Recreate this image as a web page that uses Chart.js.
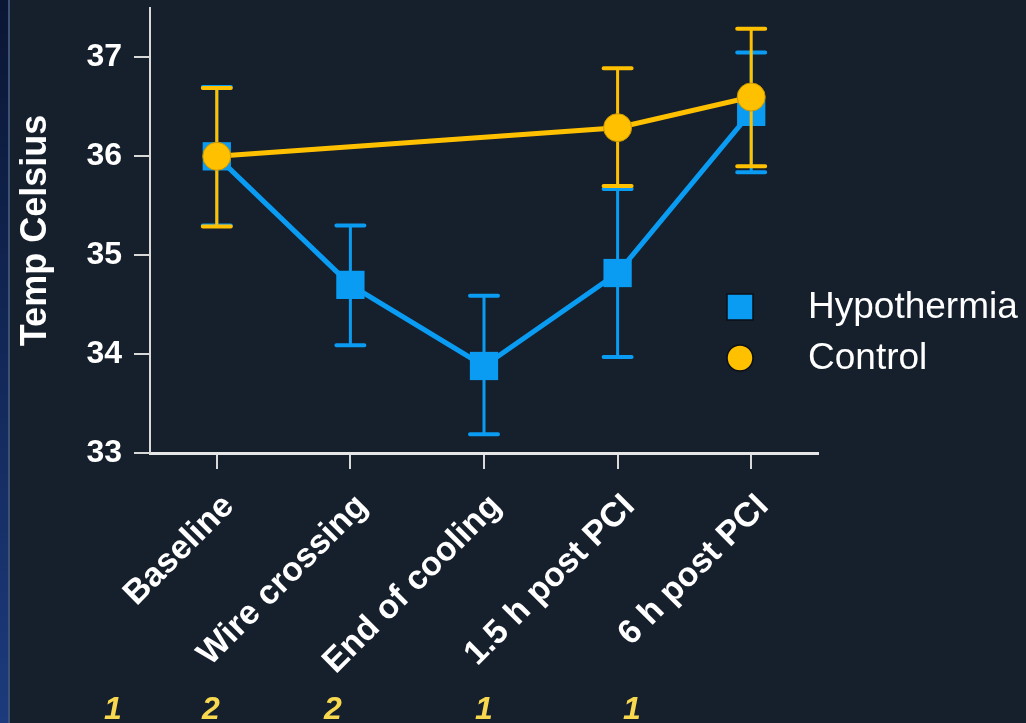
<!DOCTYPE html>
<html>
<head>
<meta charset="utf-8">
<script src="https://cdn.jsdelivr.net/npm/chart.js@4.4.1/dist/chart.umd.min.js"></script>
<style>
  html, body { margin: 0; padding: 0; background: #161f2c; overflow: hidden; }
  #strip { position: absolute; left: 0; top: 0; width: 8px; height: 723px;
           background: linear-gradient(#0a1634, #1c3a7c); border-right: 2px solid #3a5374; }
  #wrap { position: absolute; left: 0; top: 0; width: 1026px; height: 723px; }
</style>
</head>
<body>
<div id="strip"></div>
<div id="wrap"><canvas id="tempChart" width="1026" height="723"></canvas></div>
<script>
// Timepoints
const timepoints = ['Baseline', 'Wire crossing', 'End of cooling', '1.5 h post PCI', '6 h post PCI'];

// Hypothermia group: mean and error bar ends
const hypMean = [36.0, 34.7, 33.88, 34.82, 36.45];
const hypLow  = [35.3, 34.09, 33.19, 33.97, 35.84];
const hypHigh = [36.7, 35.3, 34.59, 35.67, 37.05];

// Control group (not measured at wire crossing / end of cooling)
const ctrlMean = [36.0, null, null, 36.29, 36.6];
const ctrlLow  = [35.29, null, null, 35.7, 35.9];
const ctrlHigh = [36.69, null, null, 36.89, 37.29];

const yTicks = [33, 34, 35, 36, 37];

// footnote markers along the bottom
const footnotes = ['1', '2', '2', '1', '1'];
const footnoteX = [113, 211, 333, 484, 632];

const BLUE = '#0a9bf2';
const GOLD = '#ffc000';
const FONT = "'Liberation Sans', Arial, sans-serif";

// draws the error bars of each dataset just before its line and markers
const errorBars = {
  id: 'errorBars',
  beforeDatasetDraw(chart, args) {
    const ds = chart.data.datasets[args.index];
    const yScale = chart.scales.y;
    const ctx = chart.ctx;
    ctx.save();
    ctx.strokeStyle = ds.borderColor;
    ctx.lineCap = 'round';
    args.meta.data.forEach((pt, i) => {
      if (ds.errLow[i] == null) return;
      const x = pt.x;
      const yLo = yScale.getPixelForValue(ds.errLow[i]);
      const yHi = yScale.getPixelForValue(ds.errHigh[i]);
      ctx.lineWidth = 3;
      ctx.beginPath();
      ctx.moveTo(x, yLo);
      ctx.lineTo(x, yHi);
      ctx.stroke();
      ctx.lineWidth = 4;
      ctx.beginPath();
      ctx.moveTo(x - 14, yLo); ctx.lineTo(x + 14, yLo);
      ctx.moveTo(x - 14, yHi); ctx.lineTo(x + 14, yHi);
      ctx.stroke();
    });
    ctx.restore();
  }
};

// legend sitting over the right side of the plot, plus the footnote numbers
const extras = {
  id: 'extras',
  afterDraw(chart) {
    const ctx = chart.ctx;
    ctx.save();
    const items = [chart.data.datasets[1], chart.data.datasets[0]];
    items.forEach((ds, i) => {
      const cy = 307 + i * 51;
      ctx.fillStyle = ds.backgroundColor;
      ctx.strokeStyle = '#0b0f16';
      ctx.lineWidth = 1.5;
      ctx.beginPath();
      if (ds.pointStyle === 'rect') {
        ctx.rect(727, cy - 13, 26, 26);
      } else {
        ctx.arc(740, cy, 13, 0, Math.PI * 2);
      }
      ctx.fill();
      ctx.stroke();
      ctx.fillStyle = '#ffffff';
      ctx.font = '37px ' + FONT;
      ctx.textBaseline = 'middle';
      ctx.textAlign = 'left';
      ctx.fillText(ds.label, 808, cy + 1);
    });
    ctx.fillStyle = '#f8d84f';
    ctx.font = 'italic bold 32px ' + FONT;
    ctx.textAlign = 'center';
    ctx.textBaseline = 'middle';
    footnotes.forEach((t, i) => ctx.fillText(t, footnoteX[i], 710));
    ctx.restore();
  }
};

const ctx = document.getElementById('tempChart').getContext('2d');
new Chart(ctx, {
  type: 'line',
  data: {
    labels: timepoints,
    datasets: [
      {
        label: 'Control',
        data: ctrlMean,
        errLow: ctrlLow,
        errHigh: ctrlHigh,
        borderColor: GOLD,
        backgroundColor: GOLD,
        borderWidth: 5,
        pointStyle: 'circle',
        pointRadius: 14,
        pointBorderColor: '#c89600',
        pointBorderWidth: 1,
        spanGaps: true,
        order: 1
      },
      {
        label: 'Hypothermia',
        data: hypMean,
        errLow: hypLow,
        errHigh: hypHigh,
        borderColor: BLUE,
        backgroundColor: BLUE,
        borderWidth: 5,
        pointStyle: 'rect',
        pointRadius: 20,
        pointBorderWidth: 0,
        order: 2
      }
    ]
  },
  options: {
    responsive: false,
    animation: false,
    layout: { autoPadding: false, padding: { left: 10, top: 8, right: 208, bottom: 0 } },
    plugins: {
      legend: { display: false },
      tooltip: { enabled: false }
    },
    scales: {
      x: {
        offset: true,
        grid: { display: true, drawOnChartArea: false, drawTicks: true, tickLength: 16, color: '#d9d9d9', lineWidth: 2 },
        border: { display: true, color: '#e6e6e6', width: 3 },
        ticks: {
          color: '#ffffff',
          font: { family: FONT, size: 34, weight: 'bold', lineHeight: 1 },
          minRotation: 45,
          maxRotation: 45,
          padding: 20,
          showLabelBackdrop: true,
          backdropColor: 'rgba(0,0,0,0)',
          backdropPadding: 0
        },
        afterFit(scale) {
          scale.height = 270;
          scale.paddingLeft = 0;
          scale.paddingRight = 0;
        }
      },
      y: {
        min: 33,
        max: 37.5,
        afterBuildTicks(scale) {
          scale.ticks = yTicks.map(v => ({ value: v }));
        },
        grid: { display: true, drawOnChartArea: false, drawTicks: true, tickLength: 16, color: '#d9d9d9', lineWidth: 2 },
        border: { display: true, color: '#d9d9d9', width: 2 },
        ticks: {
          color: '#ffffff',
          font: { family: FONT, size: 32, weight: 'bold' },
          padding: 12
        },
        title: {
          display: true,
          text: 'Temp Celsius',
          color: '#ffffff',
          font: { family: FONT, size: 36, weight: 'bold' },
          padding: { top: 4, bottom: 0 }
        },
        afterFit(scale) {
          scale.width = 140;
          scale.paddingTop = 0;
          scale.paddingBottom = 0;
        }
      }
    }
  },
  plugins: [errorBars, extras]
});
</script>
</body>
</html>
